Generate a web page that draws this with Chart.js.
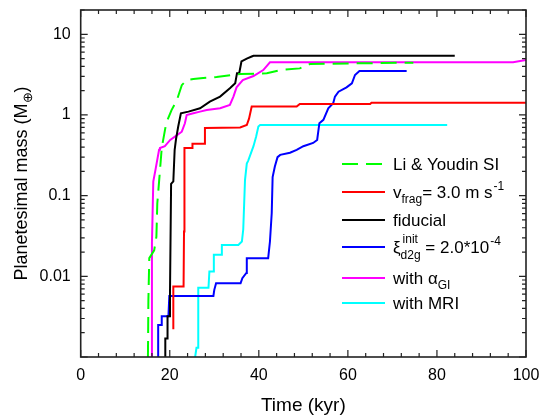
<!DOCTYPE html>
<html>
<head>
<meta charset="utf-8">
<script src="https://cdn.jsdelivr.net/npm/chart.js@4.4.1/dist/chart.umd.min.js"></script>
<style>
  html, body { margin: 0; padding: 0; background: #fff; }
  #wrap { width: 548px; height: 420px; }
</style>
</head>
<body>
<div id="wrap"><canvas id="myChart" width="548" height="420"></canvas></div>
<script>
// time in kyr, planetesimal mass in Earth masses
var liYoudinT = [15.1, 15.2, 15.4, 16.5, 17.0, 17.2, 17.6, 18.2, 19.2, 20.4, 21.6, 22.7, 23.8, 25.3, 27.5, 30.5, 35.8, 41.8, 44.8, 49.2, 51.5, 74.7];
var liYoudinM = [0.001, 0.005, 0.0168, 0.021, 0.031, 0.08, 0.149, 0.39, 0.79, 1.15, 1.53, 2.34, 2.71, 2.79, 2.88, 2.95, 3.22, 3.28, 3.6, 3.78, 4.29, 4.45];

var vfragT = [20.8, 20.8, 23.1, 23.2, 23.3, 25.1, 25.1, 27.8, 27.9, 35.8, 37.3, 37.8, 38.4, 48.5, 49.2, 65.0, 65.3, 100];
var vfragM = [0.0022, 0.0075, 0.0075, 0.036, 0.39, 0.39, 0.44, 0.44, 0.69, 0.70, 0.75, 0.9, 1.27, 1.27, 1.37, 1.37, 1.42, 1.42];

var fiducialT = [19.0, 19.0, 19.5, 19.5, 20.0, 20.05, 20.3, 20.8, 21.1, 21.4, 21.9, 22.5, 24.2, 26.8, 29.0, 31.3, 33.5, 34.7, 35.1, 35.6, 36.1, 37.3, 38.4, 38.8, 84.0];
var fiducialM = [0.001, 0.0017, 0.0017, 0.0032, 0.0032, 0.006, 0.14, 0.15, 0.37, 0.5, 0.72, 1.05, 1.1, 1.21, 1.46, 1.69, 2.14, 2.47, 3.3, 3.3, 4.6, 5.0, 5.3, 5.42, 5.42];

var xiT = [17.4, 17.4, 18.2, 18.2, 19.7, 19.9, 29.8, 30.0, 30.4, 35.9, 36.3, 37.2, 37.3, 42.1, 42.5, 42.9, 43.1, 43.6, 44.2, 44.8, 47.0, 48.5, 50.0, 52.2, 53.1, 53.6, 54.5, 55.6, 56.7, 57.1, 57.9, 59.7, 60.9, 61.6, 62.6, 73.2];
var xiM = [0.001, 0.0025, 0.0025, 0.0032, 0.0032, 0.0057, 0.0057, 0.0068, 0.0082, 0.0082, 0.0095, 0.011, 0.0168, 0.0168, 0.027, 0.061, 0.17, 0.23, 0.30, 0.32, 0.34, 0.37, 0.41, 0.45, 0.49, 0.79, 0.87, 1.21, 1.40, 1.69, 1.94, 2.2, 2.47, 3.13, 3.5, 3.5];

var alphaT = [15.8, 16.0, 16.3, 16.8, 17.6, 17.8, 18.9, 20.1, 21.4, 22.7, 23.4, 23.8, 25.3, 26.8, 28.3, 31.3, 33.5, 34.3, 35.0, 36.4, 38.8, 41.0, 42.5, 97.1, 100];
var alphaM = [0.001, 0.026, 0.149, 0.21, 0.37, 0.39, 0.41, 0.49, 0.55, 0.62, 0.79, 1.0, 1.05, 1.1, 1.15, 1.21, 1.33, 1.69, 2.2, 2.71, 3.04, 3.6, 4.49, 4.49, 4.79];

var mriT = [25.7, 26.0, 26.4, 26.4, 28.7, 28.9, 29.8, 29.9, 31.7, 31.7, 35.4, 36.2, 36.5, 36.9, 37.3, 37.6, 38.8, 39.4, 39.9, 40.3, 82.3];
var mriM = [0.001, 0.0013, 0.0013, 0.0072, 0.0072, 0.0115, 0.0115, 0.0185, 0.0185, 0.0245, 0.0245, 0.027, 0.038, 0.157, 0.25, 0.27, 0.41, 0.54, 0.72, 0.75, 0.75];

var xTicks = [0, 20, 40, 60, 80, 100];
var yTicks = [0.01, 0.1, 1, 10];
var yTickLabels = ['0.01', '0.1', '1', '10'];

// legend text with sub/superscripts: [text, mode, lowerText]
var legendRich = [
  [['Li & Youdin SI']],
  [['v'], ['frag', 'sub'], ['= 3.0 m s'], ['-1', 'sup']],
  [['fiducial']],
  [['\u03be'], ['init', 'supsub', 'd2g'], [' = 2.0*10'], ['-4', 'sup']],
  [['with \u03b1'], ['GI', 'sub']],
  [['with MRI']]
];
var legendRowY = [164, 192, 220, 247, 278, 303];

function pts(t, m) {
  return t.map(function (v, i) { return { x: v, y: m[i] }; });
}

var FONT = "'Liberation Sans', Arial, sans-serif";

function drawRich(ctx, segs, x, y, size) {
  var small = Math.round(size * 0.72);
  segs.forEach(function (s) {
    var mode = s[1] || 'n';
    if (mode === 'n') {
      ctx.font = size + 'px ' + FONT;
      ctx.fillText(s[0], x, y);
      x += ctx.measureText(s[0]).width;
    } else if (mode === 'sub') {
      ctx.font = small + 'px ' + FONT;
      ctx.fillText(s[0], x, y + size * 0.3);
      x += ctx.measureText(s[0]).width;
    } else if (mode === 'sup') {
      ctx.font = small + 'px ' + FONT;
      ctx.fillText(s[0], x + 1, y - size * 0.45);
      x += ctx.measureText(s[0]).width + 1;
    } else if (mode === 'supsub') {
      ctx.font = small + 'px ' + FONT;
      ctx.fillText(s[0], x + 2, y - size * 0.6);
      ctx.fillText(s[2], x, y + size * 0.38);
      x += Math.max(ctx.measureText(s[0]).width + 2, ctx.measureText(s[2]).width);
    }
  });
  return x;
}

function richWidth(ctx, segs, size) {
  var w = 0, small = Math.round(size * 0.72);
  segs.forEach(function (s) {
    ctx.font = ((s[1] && s[1] !== 'n') ? small : size) + 'px ' + FONT;
    w += ctx.measureText(s[0]).width;
  });
  return w;
}

var decorPlugin = {
  id: 'decor',
  afterDraw: function (chart) {
    var ctx = chart.ctx, a = chart.chartArea;
    var xs = chart.scales.x, ys = chart.scales.y;
    ctx.save();
    ctx.strokeStyle = '#222';
    ctx.lineWidth = 1.2;
    ctx.beginPath();
    // x ticks every 4 kyr, inward on bottom and top
    for (var v = 0; v <= 100; v += 4) {
      var px = xs.getPixelForValue(v);
      var len = (v % 20 === 0) ? 7 : 4;
      ctx.moveTo(px, a.bottom); ctx.lineTo(px, a.bottom - len);
      ctx.moveTo(px, a.top); ctx.lineTo(px, a.top + len);
    }
    // log ticks, inward on left and right
    for (var d = -3; d <= 1; d++) {
      for (var k = 1; k <= 9; k++) {
        var val = k * Math.pow(10, d);
        if (val < ys.min || val > ys.max) continue;
        var py = ys.getPixelForValue(val);
        var l = (k === 1) ? 7 : 4;
        ctx.moveTo(a.left, py); ctx.lineTo(a.left + l, py);
        ctx.moveTo(a.right, py); ctx.lineTo(a.right - l, py);
      }
    }
    ctx.stroke();
    ctx.lineWidth = 1.6;
    ctx.strokeRect(a.left, a.top, a.right - a.left, a.bottom - a.top);

    // axis titles
    ctx.fillStyle = '#000';
    ctx.textBaseline = 'alphabetic';
    ctx.font = '19px ' + FONT;
    ctx.textAlign = 'center';
    ctx.fillText('Time (kyr)', (a.left + a.right) / 2, 411);
    ctx.textAlign = 'left';
    var ySegs = [['Planetesimal mass (M'], ['\u2295', 'sub'], [')']];
    ctx.save();
    ctx.translate(27, (a.top + a.bottom) / 2);
    ctx.rotate(-Math.PI / 2);
    drawRich(ctx, ySegs, -richWidth(ctx, ySegs, 18) / 2, 0, 18);
    ctx.restore();

    // legend
    chart.data.datasets.forEach(function (ds, i) {
      var y = legendRowY[i];
      ctx.strokeStyle = ds.borderColor;
      ctx.lineWidth = 2;
      ctx.setLineDash(ds.borderDash || []);
      ctx.beginPath();
      ctx.moveTo(342, y); ctx.lineTo(385, y);
      ctx.stroke();
      ctx.setLineDash([]);
      ctx.fillStyle = '#000';
      drawRich(ctx, legendRich[i], 393, y + 6, 17);
    });
    ctx.restore();
  }
};

var ctx = document.getElementById('myChart').getContext('2d');
var myChart = new Chart(ctx, {
  type: 'line',
  data: {
    datasets: [{
      label: 'Li & Youdin SI',
      data: pts(liYoudinT, liYoudinM),
      borderColor: '#00ff00',
      borderDash: [16, 8]
    }, {
      label: 'vfrag= 3.0 m s-1',
      data: pts(vfragT, vfragM),
      borderColor: '#ff0000'
    }, {
      label: 'fiducial',
      data: pts(fiducialT, fiducialM),
      borderColor: '#000000'
    }, {
      label: '\u03be init d2g = 2.0*10-4',
      data: pts(xiT, xiM),
      borderColor: '#0000ff'
    }, {
      label: 'with \u03b1GI',
      data: pts(alphaT, alphaM),
      borderColor: '#ff00ff'
    }, {
      label: 'with MRI',
      data: pts(mriT, mriM),
      borderColor: '#00ffff'
    }]
  },
  options: {
    responsive: false,
    animation: false,
    devicePixelRatio: 1,
    layout: { padding: { top: 10, right: 22, bottom: 0, left: 0 } },
    elements: {
      line: { borderWidth: 2, tension: 0, fill: false },
      point: { radius: 0 }
    },
    plugins: {
      legend: { display: false },
      tooltip: { enabled: false }
    },
    scales: {
      x: {
        type: 'linear',
        min: 0,
        max: 100,
        grid: { display: false, drawTicks: false },
        border: { display: false },
        afterBuildTicks: function (s) { s.ticks = xTicks.map(function (v) { return { value: v }; }); },
        afterFit: function (s) { s.height = 63; s.paddingLeft = 0; s.paddingRight = 0; },
        ticks: {
          padding: 9,
          color: '#000',
          font: { family: FONT, size: 16 }
        }
      },
      y: {
        type: 'logarithmic',
        min: 0.001,
        max: 20,
        grid: { display: false, drawTicks: false },
        border: { display: false },
        afterBuildTicks: function (s) { s.ticks = yTicks.map(function (v) { return { value: v }; }); },
        afterFit: function (s) { s.width = 80.7; s.paddingTop = 0; s.paddingBottom = 0; },
        ticks: {
          padding: 10,
          color: '#000',
          font: { family: FONT, size: 16 },
          callback: function (v, i) { return yTickLabels[i]; }
        }
      }
    }
  },
  plugins: [decorPlugin]
});
</script>
</body>
</html>
